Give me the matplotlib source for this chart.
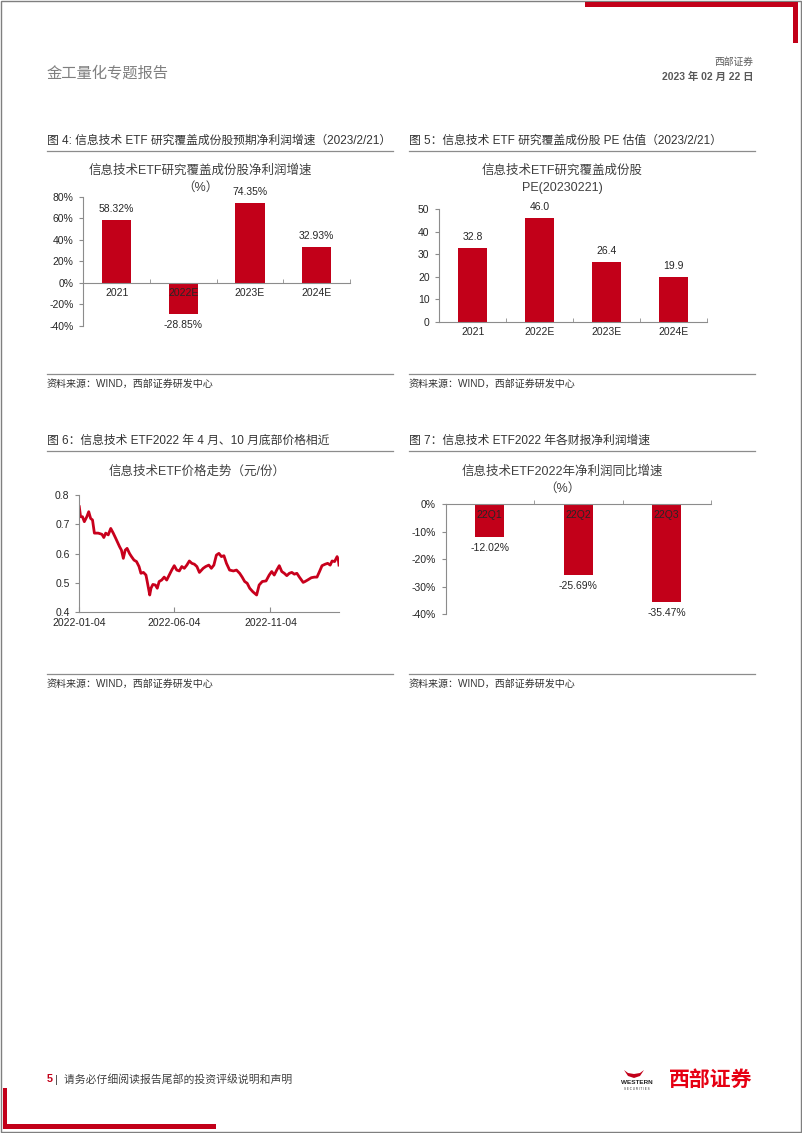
import datetime
import numpy as np
import matplotlib
matplotlib.use('Agg')
import matplotlib.pyplot as plt
import matplotlib.dates as mdates
from matplotlib.patches import Rectangle, Polygon

plt.rcParams['font.family'] = ['Liberation Sans', 'Noto Sans CJK SC']
plt.rcParams['axes.unicode_minus'] = False

# ---- data ----
growth_cats = ['2021', '2022E', '2023E', '2024E']
growth_vals = [58.32, -28.85, 74.35, 32.93]

pe_cats = ['2021', '2022E', '2023E', '2024E']
pe_vals = [32.8, 46.0, 26.4, 19.9]

q_cats = ['22Q1', '22Q2', '22Q3']
q_vals = [-12.02, -25.69, -35.47]

price_dates = ['2022-01-04', '2022-01-06', '2022-01-09', '2022-01-12', '2022-01-16', '2022-01-19',
               '2022-01-22', '2022-01-25', '2022-01-28', '2022-02-03', '2022-02-09', '2022-02-12',
               '2022-02-15', '2022-02-19', '2022-02-23', '2022-02-27', '2022-03-03', '2022-03-09',
               '2022-03-12', '2022-03-15', '2022-03-18', '2022-03-21', '2022-03-25', '2022-03-28',
               '2022-04-01', '2022-04-05', '2022-04-09', '2022-04-12', '2022-04-16', '2022-04-20',
               '2022-04-22', '2022-04-26', '2022-04-28', '2022-05-01', '2022-05-05', '2022-05-08',
               '2022-05-11', '2022-05-15', '2022-05-19', '2022-05-23', '2022-05-27', '2022-05-31',
               '2022-06-04', '2022-06-08', '2022-06-12', '2022-06-16', '2022-06-20', '2022-06-24',
               '2022-06-28', '2022-07-02', '2022-07-06', '2022-07-10', '2022-07-14', '2022-07-20',
               '2022-07-24', '2022-07-29', '2022-08-02', '2022-08-06', '2022-08-10', '2022-08-14',
               '2022-08-18', '2022-08-22', '2022-08-26', '2022-08-31', '2022-09-06', '2022-09-11',
               '2022-09-16', '2022-09-20', '2022-09-24', '2022-09-28', '2022-10-02', '2022-10-07',
               '2022-10-13', '2022-10-17', '2022-10-22', '2022-10-28', '2022-11-02', '2022-11-06',
               '2022-11-10', '2022-11-14', '2022-11-18', '2022-11-22', '2022-11-26', '2022-11-30',
               '2022-12-04', '2022-12-08', '2022-12-12', '2022-12-16', '2022-12-20', '2022-12-26',
               '2022-12-29', '2023-01-02', '2023-01-08', '2023-01-13', '2023-01-17', '2023-01-21',
               '2023-01-25', '2023-01-30', '2023-02-03', '2023-02-07', '2023-02-10', '2023-02-14',
               '2023-02-18', '2023-02-20', '2023-02-21']
price_vals = [0.760, 0.726, 0.726, 0.709, 0.726, 0.743,
              0.720, 0.715, 0.670, 0.670, 0.666, 0.655,
              0.670, 0.664, 0.686, 0.670, 0.652, 0.624,
              0.612, 0.584, 0.612, 0.618, 0.600, 0.590,
              0.578, 0.573, 0.556, 0.533, 0.536, 0.527,
              0.505, 0.459, 0.482, 0.495, 0.493, 0.482,
              0.505, 0.510, 0.520, 0.510, 0.527, 0.544,
              0.559, 0.544, 0.541, 0.556, 0.550, 0.561,
              0.575, 0.567, 0.564, 0.556, 0.536, 0.550,
              0.556, 0.561, 0.550, 0.561, 0.595, 0.601,
              0.590, 0.593, 0.567, 0.544, 0.541, 0.544,
              0.533, 0.520, 0.505, 0.499, 0.482, 0.470,
              0.459, 0.493, 0.505, 0.507, 0.527, 0.539,
              0.527, 0.544, 0.559, 0.539, 0.533, 0.525,
              0.533, 0.536, 0.530, 0.533, 0.520, 0.502,
              0.505, 0.510, 0.518, 0.520, 0.520, 0.539,
              0.559, 0.564, 0.567, 0.561, 0.575, 0.573,
              0.590, 0.578, 0.561]
price_ticks = ['2022-01-04', '2022-06-04', '2022-11-04']

W, H = 802, 1133
RED = '#C20019'
LINE_RED = '#C8001C'
AXC = '#8C8C8C'
TXT = '#262626'


def rect(x0, y0, x1, y1):
    return [x0 / W, 1 - y1 / H, (x1 - x0) / W, (y1 - y0) / H]


def style_axes(ax):
    ax.patch.set_alpha(0)
    for s in ['top', 'right']:
        ax.spines[s].set_visible(False)
    for s in ['left', 'bottom']:
        ax.spines[s].set_color(AXC)
        ax.spines[s].set_linewidth(0.8)
    ax.tick_params(axis='y', colors=AXC, labelcolor=TXT, labelsize=7.5, length=3, width=0.8, pad=4)
    ax.tick_params(axis='x', colors=AXC, labelcolor=TXT, labelsize=7.5, width=0.8)


def bar_chart(ax, cats, vals, width, ylim, step, fmt, labfmt):
    x = np.arange(len(cats))
    ax.bar(x, vals, width=width, color=RED, zorder=1)
    ax.set_xlim(-0.5, len(cats) - 0.5)
    ax.set_ylim(*ylim)
    ax.set_yticks(np.arange(ylim[0], ylim[1] + step / 2, step))
    ax.set_yticklabels([fmt.format(v) for v in np.arange(ylim[0], ylim[1] + step / 2, step)])
    ax.spines['bottom'].set_position(('data', 0))
    ax.set_xticks(x)
    ax.set_xticklabels(cats)
    ax.set_xticks(np.arange(0.5, len(cats) - 0.4, 1), minor=True)
    ax.tick_params(axis='x', which='major', length=0, pad=4)
    ax.tick_params(axis='x', which='minor', direction='in', length=3, color=AXC)
    for i, v in enumerate(vals):
        ax.annotate(labfmt.format(v), (i, v), xytext=(0, 8 if v > 0 else -8),
                    textcoords='offset points', ha='center', va='center',
                    fontsize=7.5, color=TXT)


fig = plt.figure(figsize=(W / 100, H / 100), dpi=100)

# page decorations in pixel coordinates
page = fig.add_axes([0, 0, 1, 1])
page.set_xlim(0, W)
page.set_ylim(H, 0)
page.axis('off')
page.add_patch(Rectangle((0.5, 0.5), W - 1.5, H - 1.5, fill=False, ec='#7F7F7F', lw=1))
page.add_patch(Rectangle((585, 2), 212, 5, color=RED, lw=0))
page.add_patch(Rectangle((793, 2), 5, 41, color=RED, lw=0))
page.add_patch(Rectangle((3, 1088), 4, 41, color=RED, lw=0))
page.add_patch(Rectangle((3, 1124), 213, 5, color=RED, lw=0))

page.text(47, 73, '金工量化专题报告', fontsize=11, color='#7F7F7F', va='center', ha='left')
page.text(753, 62, '西部证券', fontsize=7, color='#595959', va='center', ha='right')
page.text(753, 77, '2023 年 02 月 22 日', fontsize=7.5, color='#595959', va='center', ha='right',
          fontweight='bold')

# captions, rules and sources
captions = [(47, 141, '图 4: 信息技术 ETF 研究覆盖成份股预期净利润增速（2023/2/21）', 393),
            (409, 141, '图 5：信息技术 ETF 研究覆盖成份股 PE 估值（2023/2/21）', 755),
            (47, 441, '图 6：信息技术 ETF2022 年 4 月、10 月底部价格相近', 393),
            (409, 441, '图 7：信息技术 ETF2022 年各财报净利润增速', 755)]
for x, y, s, x1 in captions:
    page.text(x, y, s, fontsize=8.5, color='#333333', va='center', ha='left')
    page.plot([x, x1], [y + 10, y + 10], color='#8C8C8C', lw=0.9)
    yb = y + 233
    page.plot([x, x1], [yb, yb], color='#8C8C8C', lw=0.9)
    page.text(x, yb + 10, '资料来源：WIND，西部证券研发中心', fontsize=7.2, color='#333333',
              va='center', ha='left')

# chart titles
page.text(200, 171, '信息技术ETF研究覆盖成份股净利润增速', fontsize=9, color='#404040', ha='center', va='center')
page.text(200, 188, '（%）', fontsize=9, color='#404040', ha='center', va='center')
page.text(562, 171, '信息技术ETF研究覆盖成份股', fontsize=9, color='#404040', ha='center', va='center')
page.text(562, 188, 'PE(20230221)', fontsize=9, color='#404040', ha='center', va='center')
page.text(197, 472, '信息技术ETF价格走势（元/份）', fontsize=9, color='#404040', ha='center', va='center')
page.text(562, 472, '信息技术ETF2022年净利润同比增速', fontsize=9, color='#404040', ha='center', va='center')
page.text(562, 489, '（%）', fontsize=9, color='#404040', ha='center', va='center')

# footer
page.text(47, 1079, '5', fontsize=7.8, color=RED, fontweight='bold', va='center', ha='left')
page.text(55, 1079, '|  请务必仔细阅读报告尾部的投资评级说明和声明', fontsize=7.8, color='#404040',
          va='center', ha='left')
page.add_patch(Polygon([[624, 1070], [628, 1076], [634, 1078], [640, 1076], [644, 1070],
                        [640, 1073], [634, 1074], [628, 1073]], closed=True, color=RED, lw=0))
page.text(637, 1083, 'WESTERN', fontsize=4.6, color='#222222', fontweight='bold', ha='center', va='center')
page.text(637, 1088.5, 'S E C U R I T I E S', fontsize=2.2, color='#222222', ha='center', va='center')
page.text(711, 1080, '西部证券', fontsize=15, color='#E60012', fontweight='bold', ha='center', va='center')

# Figure 4
ax4 = fig.add_axes(rect(83.3, 196.7, 350, 326))
style_axes(ax4)
bar_chart(ax4, growth_cats, growth_vals, 0.44, (-40, 80), 20, '{:.0f}%', '{:.2f}%')

# Figure 5
ax5 = fig.add_axes(rect(439.3, 209, 706.7, 321.7))
style_axes(ax5)
bar_chart(ax5, pe_cats, pe_vals, 0.44, (0, 50), 10, '{:.0f}', '{:.1f}')

# Figure 7
ax7 = fig.add_axes(rect(445.5, 504, 711, 614.3))
style_axes(ax7)
bar_chart(ax7, q_cats, q_vals, 0.325, (-40, 0), 10, '{:.0f}%', '{:.2f}%')

# Figure 6
ax6 = fig.add_axes(rect(79.3, 495, 339, 612.3))
style_axes(ax6)
d = [datetime.datetime.strptime(s, '%Y-%m-%d') for s in price_dates]
ax6.plot(d, price_vals, color=LINE_RED, lw=2.0, solid_joinstyle='round')
ax6.set_xlim(d[0], d[-1])
ax6.set_ylim(0.4, 0.8)
ax6.set_yticks([0.4, 0.5, 0.6, 0.7, 0.8])
ax6.set_yticklabels(['0.4', '0.5', '0.6', '0.7', '0.8'])
tk = [datetime.datetime.strptime(s, '%Y-%m-%d') for s in price_ticks]
ax6.set_xticks(tk)
ax6.set_xticklabels(price_ticks)
ax6.tick_params(axis='x', direction='in', length=3.5, pad=4)

fig.savefig('out.png', dpi=100)
